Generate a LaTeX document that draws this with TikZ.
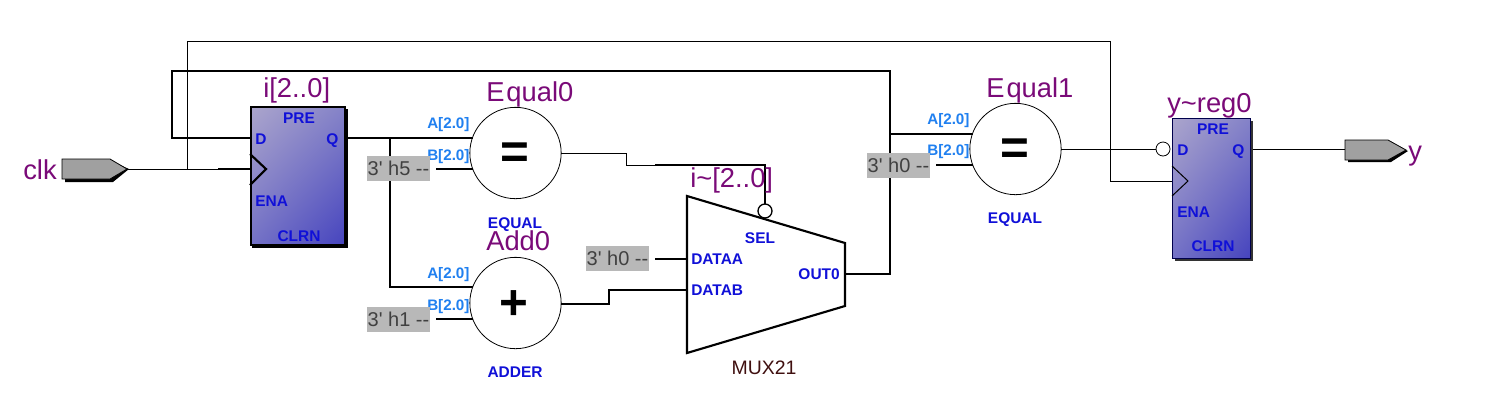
\documentclass[tikz,border=0pt]{standalone}
\usepackage{fontspec}
\setmainfont{Liberation Sans}
\usetikzlibrary{shadings}
\definecolor{lblpurple}{HTML}{7A0A78}
\definecolor{pinblue}{HTML}{1010D8}
\definecolor{portblue}{HTML}{2080F0}
\definecolor{constgray}{HTML}{B8B8B8}
\definecolor{portgray}{HTML}{A0A0A0}
\definecolor{mutext}{HTML}{401010}
\definecolor{regTL}{HTML}{ABA5CC}
\definecolor{regTR}{HTML}{8482C8}
\definecolor{regBL}{HTML}{7472C6}
\definecolor{regBR}{HTML}{4644BE}
\newcommand{\constlabel}[1]{3\textquotesingle\ h#1 {-}{-}}
\tikzset{
  wirethin/.style={line width=0.75pt,black},
  wirethick/.style={line width=1.6pt,black},
  instlabel/.style={text=lblpurple,font=\fontsize{20.5}{22}\selectfont,inner sep=0pt,anchor=base west},
  pinlabel/.style={text=pinblue,font=\fontsize{11.6}{13}\selectfont\bfseries,inner sep=0pt,anchor=base west},
  pincenter/.style={pinlabel,anchor=base},
  pinright/.style={pinlabel,anchor=base east},
  portlabel/.style={text=portblue,font=\fontsize{11.4}{13}\selectfont\bfseries,inner sep=0pt,anchor=base west},
  constbox/.style={fill=constgray,text=black!75,font=\fontsize{15}{16}\selectfont,inner sep=0pt,minimum width=47.25pt,minimum height=18.75pt,anchor=center},
  opcircle/.style={circle,draw=black,line width=0.6pt,inner sep=0pt,minimum size=68.5pt},
  opsym/.style={font=\fontsize{37}{39}\selectfont\bfseries,inner sep=0pt},
  regbox/.style={rectangle,inner sep=0pt,shading=bilinear interpolation,upper left=regTL,upper right=regTR,lower left=regBL,lower right=regBR},
  bubble/.style={circle,draw=black,fill=white,inner sep=0pt,minimum size=10.5pt},
  mulabel/.style={text=mutext,font=\fontsize{14.6}{16}\selectfont,inner sep=0pt,anchor=base},
}
\begin{document}
\begin{tikzpicture}[x=0.75pt,y=-0.75pt]
\useasboundingbox[fill=white] (0,0) rectangle (1489,405);

% named pins
\coordinate (clkout) at (127,169);
\coordinate (clkT) at (187,169);
\coordinate (iClk) at (250,169);
\coordinate (iD) at (250,138);
\coordinate (iQ) at (346,138);
\coordinate (fbA) at (172,138);
\coordinate (fbB) at (172,71);
\coordinate (fbC) at (890,71);
\coordinate (fbD) at (890,274);
\coordinate (eq1A) at (890,134);
\coordinate (eq1Ain) at (973,134);
\coordinate (muxOut) at (845,274);
\coordinate (tA) at (187,41);
\coordinate (tB) at (1110,41);
\coordinate (tC) at (1110,181);
\coordinate (yClk) at (1172,181);
\coordinate (qJ) at (390,138);
\coordinate (qJb) at (390,287);
\coordinate (addA) at (473,287);
\coordinate (eq0A) at (473,138);
\coordinate (c5out) at (436,169);
\coordinate (eq0B) at (473,169);
\coordinate (c1out) at (436,319);
\coordinate (addB) at (473,319);
\coordinate (c0out) at (655,259);
\coordinate (muxA) at (687,259);
\coordinate (muxB) at (687,290);
\coordinate (abA) at (609,290);
\coordinate (abB) at (609,304);
\coordinate (addOut) at (561,304);
\coordinate (eq0Out) at (561,153);
\coordinate (sA) at (626,153);
\coordinate (sB) at (626,165);
\coordinate (sC) at (765,165);
\coordinate (c0bout) at (936,165);
\coordinate (eq1B) at (973,165);
\coordinate (eq1Out) at (1061,149);
\coordinate (yQ) at (1250,149);
\coordinate (yPort) at (1345,149);

% thin wires
\draw[wirethin] (clkout) -- (iClk);
\draw[wirethin] (clkT) -- (tA) -- (tB) -- (tC) -- (yClk);
\draw[wirethin] (eq0Out) -- (sA) -- (sB) -- (655,165);
\draw[wirethin] (yQ) -- (yPort);
% thick wires
\draw[wirethick] (218,169) -- (iClk);
\draw[wirethick,line join=miter] (iD) -- (fbA) -- (fbB) -- (fbC) -- (fbD) -- (muxOut);
\draw[wirethick] (eq1A) -- (eq1Ain);
\draw[wirethick] (iQ) -- (eq0A);
\draw[wirethick] (qJ) -- (qJb) -- (addA);
\draw[wirethick] (c5out) -- (eq0B);
\draw[wirethick] (c1out) -- (addB);
\draw[wirethick] (c0out) -- (muxA);
\draw[wirethick] (muxB) -- (abA) -- (abB) -- (addOut);
\draw[wirethick] (655,165) -- (sC) -- (765,204);
\draw[wirethick] (c0bout) -- (eq1B);

% input port
\fill[black] (65,162) -- (113,162) -- (129,169) -- (113,182) -- (65,182) -- cycle;
\draw[fill=portgray,line width=0.6pt] (62,159) -- (110,159) -- (127,169) -- (110,179) -- (62,179) -- cycle;
\node[instlabel] (clklbl) at (23,179) {clk};

% output port
\fill[black] (1348,143) -- (1391,143) -- (1408,151) -- (1391,162) -- (1348,162) -- cycle;
\draw[fill=portgray,line width=0.6pt] (1345,140) -- (1388,140) -- (1406,150) -- (1388,160) -- (1345,160) -- cycle;
\node[instlabel] (ylbl) at (1408,160) {y};

% register i
\fill[black] (252,109) rectangle (348,247.5);
\node[regbox,draw=black,line width=1.6pt,minimum width=71pt,minimum height=103pt] (regI) at (298,176) {};
\draw[line width=1.6pt,black] (250,154) -- (266,169) -- (250,185);
\node[instlabel] (regIlbl) at (263,97) {i[2..0]};
\node[pincenter] (iPre) at (299,123) {PRE};
\node[pinlabel] (iDl) at (255,144) {D};
\node[pinlabel] (iQl) at (326,144) {Q};
\node[pinlabel] (iEna) at (255,206) {ENA};
\node[pincenter] (iClrn) at (299,241) {CLRN};

% register y
\fill[black!80] (1175,121) rectangle (1253,261);
\node[regbox,draw=black!70!blue,line width=0.75pt,minimum width=58.5pt,minimum height=105pt] (regY) at (1211,188) {};
\draw[line width=0.75pt,black] (1172,166) -- (1188,181) -- (1172,196);
\node[instlabel] (regYlbl) at (1167,112) {y\textasciitilde reg0};
\node[pincenter] (yPre) at (1213,134) {PRE};
\node[pinlabel] (yDl) at (1177,155) {D};
\node[pinlabel] (yQl) at (1232,155) {Q};
\node[pinlabel] (yEna) at (1177,217) {ENA};
\node[pincenter] (yClrn) at (1213,251) {CLRN};
\draw[wirethin] (eq1Out) -- (1156,149);
\node[bubble,line width=0.6pt] (yBub) at (1163,149) {};

% operators
\node[opcircle] (eq0) at (515.5,153) {};
\node[opsym] (eq0s) at (514.5,156) {=};
\node[opcircle] (add) at (515.5,303) {};
\node[opsym] (adds) at (514,305) {+};
\node[opcircle] (eq1) at (1015.5,149) {};
\node[opsym] (eq1s) at (1015,152) {=};

\node[instlabel] (eq0l) at (486,101) {E\kern1.5pt qual0};
\node[instlabel] (addl) at (486,250) {Add0};
\node[instlabel] (eq1l) at (986,97) {E\kern1.5pt qual1};
\node[pincenter] (eq0t) at (515,228) {EQUAL};
\node[pincenter] (addt) at (515,377) {ADDER};
\node[pincenter] (eq1t) at (1015,223) {EQUAL};

\node[portlabel] (eq0al) at (427,128) {A[2.0]};
\node[portlabel] (eq0bl) at (427,160) {B[2.0]};
\node[portlabel] (addal) at (427,278) {A[2.0]};
\node[portlabel] (addbl) at (427,310) {B[2.0]};
\node[portlabel] (eq1al) at (927,124) {A[2.0]};
\node[portlabel] (eq1bl) at (927,155) {B[2.0]};

% constants
\node[constbox] (c5) at (398.5,168.5) {\constlabel{5}};
\node[constbox] (c1) at (398.5,319.5) {\constlabel{1}};
\node[constbox] (c0) at (617.5,258.5) {\constlabel{0}};
\node[constbox] (c0b) at (898.5,165) {\constlabel{0}};

% mux
\draw[line width=1.6pt,line join=miter] (687,196) -- (845,243) -- (845,306) -- (687,353) -- cycle;
\node[bubble,line width=1pt] (selBub) at (765,211) {};
\node[instlabel] (muxl) at (690,187) {i\textasciitilde[2..0]};
\node[pincenter] (sel) at (760,243) {SEL};
\node[pinlabel] (dataa) at (691,264) {DATAA};
\node[pinlabel] (datab) at (691,295) {DATAB};
\node[pinright] (out0) at (840,279) {OUT0};
\node[mulabel] (mux21) at (764,374) {MUX21};
\end{tikzpicture}
\end{document}
